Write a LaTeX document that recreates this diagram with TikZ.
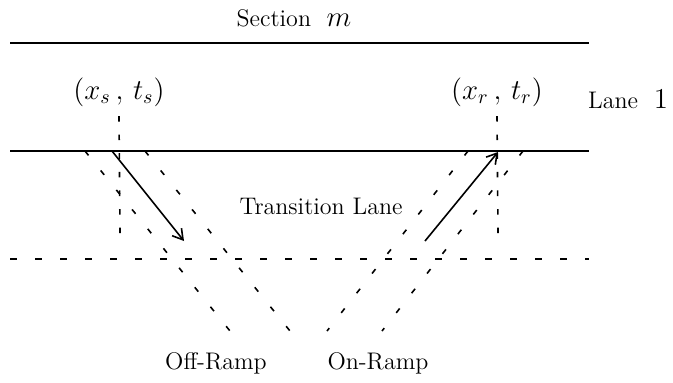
\documentclass[tikz,border=0pt]{standalone}
\usepackage{tikz}
\usetikzlibrary{arrows.meta, positioning}
\tikzset{
  laneline/.style={line width=0.8pt},
  edgedash/.style={line width=0.8pt, dash pattern=on 3.5pt off 9pt},
  rampdot/.style={line width=0.8pt, dash pattern=on 2.8pt off 9.7pt},
  markdot/.style={line width=0.8pt, dash pattern=on 2.8pt off 6.5pt},
  movearrow/.style={-{Straight Barb[length=5pt,width=6pt]}, line width=0.8pt},
  roadlabel/.style={font=\large, inner sep=0pt},
  pointlabel/.style={font=\Large, inner sep=0pt},
}

\begin{document}
\begin{tikzpicture}[x=0.5pt, y=-0.5pt]
    \useasboundingbox (0,0) rectangle (673,382);

    % labels
    \node[roadlabel] (sec)   at (294,18)  {Section \ {\Large$m$}};
    \node[pointlabel] (xs)   at (119,92)  {$(x_s\,,\,t_s)$};
    \node[pointlabel] (xr)   at (497,92)  {$(x_r\,,\,t_r)$};
    \node[roadlabel] (lane)  at (628,99)  {Lane \ {\Large 1}};
    \node[roadlabel] (trans) at (321,206) {Transition Lane};
    \node[roadlabel] (off)   at (216,363) {Off-Ramp};
    \node[roadlabel] (on)    at (378,363) {On-Ramp};

    % lane boundaries
    \draw[laneline] (10,43)  -- (589,43);
    \draw[laneline] (10,151) -- (589,151);
    \draw[edgedash] (10,259) -- (589,259);

    % ramp edges
    \draw[rampdot] (85,151)  -- (230,331);
    \draw[rampdot] (145,151) -- (290,331);
    \draw[rampdot] (468,151) -- (327,331);
    \draw[rampdot] (523,151) -- (382,331);

    % marks below the points
    \coordinate (xsfoot) at (120,233);
    \coordinate (xrfoot) at (498,233);
    \draw[markdot] (xs.south |- 0,116) -- (xsfoot);
    \draw[markdot] (xr.south |- 0,116) -- (xrfoot);

    % lane changes
    \coordinate (sstart) at (112,151);
    \coordinate (send)   at (184,241);
    \coordinate (rstart) at (425,241);
    \coordinate (rend)   at (498,152);
    \draw[movearrow] (sstart) -- (send);
    \draw[movearrow] (rstart) -- (rend);
  \end{tikzpicture}
\end{document}
